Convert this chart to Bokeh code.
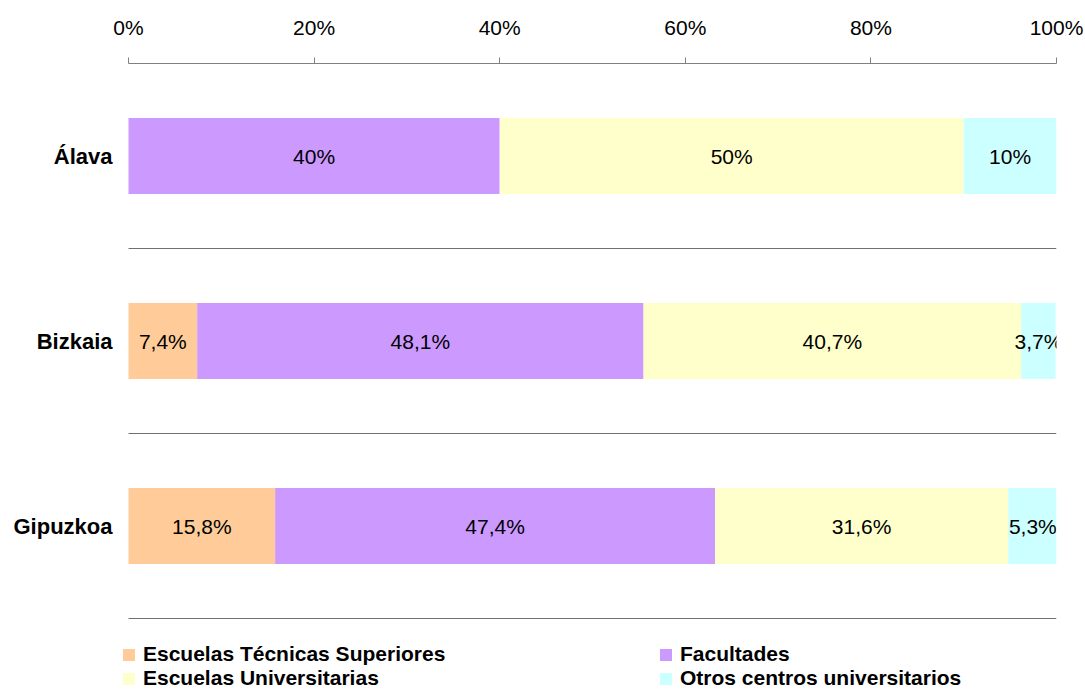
from bokeh.plotting import figure
from bokeh.models import Range1d, FixedTicker, Legend, LegendItem, ColumnDataSource
from bokeh.core.properties import value
from bokeh.embed import file_html
from bokeh.resources import INLINE

# ---- data ----
provinces = ["Álava", "Bizkaia", "Gipuzkoa"]
series_names = ["Escuelas Técnicas Superiores", "Facultades",
                "Escuelas Universitarias", "Otros centros universitarios"]
ets = [0.0, 7.4, 15.8]
fac = [40.0, 48.1, 47.4]
eu = [50.0, 40.7, 31.6]
otros = [10.0, 3.7, 5.3]
colors = ["#FFCC99", "#CC99FF", "#FFFFCC", "#CCFFFF"]
tick_values = [0, 20, 40, 60, 80, 100]
tick_labels = ["0%", "20%", "40%", "60%", "80%", "100%"]

FONT = "Liberation Sans"

# ---- layout constants (pixels) ----
W, H = 1085, 690
LEFT, RIGHT, TOP, BOTTOM = 121, 1056, 63, 690   # frame edges
X0_PX = 128           # where 0% sits
BAND_PX = 185         # height of one category band

n = len(provinces)
ypos = [n - i - 0.5 for i in range(n)]
series = [ets, fac, eu, otros]
keys = ["ets", "fac", "eu", "otros"]
data = dict(y=ypos)
for k, s in zip(keys, series):
    data[k] = s
src = ColumnDataSource(data)


def fmt(v):
    if float(v).is_integer():
        return f"{int(v)}%"
    return f"{v:.1f}".replace(".", ",") + "%"


px_per_pct = (RIGHT - X0_PX) / 100.0
x_start = -(X0_PX - LEFT) / px_per_pct
y_start = n - (BOTTOM - TOP) / BAND_PX

p = figure(width=W, height=H,
           x_range=Range1d(x_start, 100), y_range=Range1d(y_start, n),
           x_axis_location="above",
           output_backend="svg", toolbar_location=None,
           min_border_left=LEFT, min_border_right=W - RIGHT,
           min_border_top=TOP, min_border_bottom=H - BOTTOM)
p.outline_line_color = None
p.xgrid.visible = False
p.ygrid.visible = False

# separators between categories
bounds_y = list(range(n))
p.segment(x0=[0] * n, x1=[100] * n, y0=bounds_y, y1=bounds_y,
          line_color="#707070", line_width=1)

renderers = p.hbar_stack(keys, y="y", height=0.41, fill_color=colors,
                         line_color=None, source=src)

# segment labels
lx, ly, lt = [], [], []
for i in range(n):
    start = 0.0
    for s in series:
        v = s[i]
        if v > 0:
            lx.append(start + v / 2)
            ly.append(ypos[i])
            lt.append(fmt(v))
        start += v
p.text(x=lx, y=ly, text=lt, text_align="center", text_baseline="middle",
       text_font=value(FONT), text_font_size="21px", text_color="black")

# x axis (top)
xa = p.xaxis[0]
xa.ticker = FixedTicker(ticks=tick_values)
xa.bounds = (0, 100)
xa.major_label_overrides = dict(zip(tick_values, tick_labels))
xa.minor_tick_line_color = None
xa.major_tick_out = 6
xa.major_tick_in = 0
xa.axis_line_color = "#808080"
xa.major_tick_line_color = "#808080"
xa.major_label_text_font = FONT
xa.major_label_text_font_size = "21px"
xa.major_label_text_color = "black"
xa.major_label_standoff = 19

# y axis
ya = p.yaxis[0]
ya.ticker = FixedTicker(ticks=ypos)
ya.major_label_overrides = dict(zip(ypos, provinces))
ya.axis_line_color = None
ya.major_tick_line_color = None
ya.minor_tick_line_color = None
ya.major_tick_out = 0
ya.major_tick_in = 0
ya.major_label_standoff = 9
ya.major_label_text_font = FONT
ya.major_label_text_font_size = "22px"
ya.major_label_text_font_style = "bold"
ya.major_label_text_color = "black"


def make_legend(j, loc):
    lg = Legend(items=[LegendItem(label=series_names[j], renderers=[renderers[j]])],
                location=loc, orientation="vertical")
    lg.glyph_width = 15
    lg.glyph_height = 15
    lg.label_text_font = FONT
    lg.label_text_font_size = "21px"
    lg.label_text_font_style = "bold"
    lg.label_text_color = "black"
    lg.label_standoff = 7
    lg.label_height = 19
    lg.padding = 0
    lg.margin = 0
    lg.spacing = 0
    lg.border_line_color = None
    lg.background_fill_alpha = 0
    return lg


# legend grid: 2 columns x 2 rows, column-major order of the series
col_x = [0, 537]
row_y = [24, 0]
legend_slots = [(0, 0, 0), (1, 1, 0), (2, 0, 1), (3, 1, 1)]  # (series, col, row)
for j, c, r in legend_slots:
    p.add_layout(make_legend(j, (col_x[c], row_y[r])), "center")

open("out.html", "w").write(file_html(p, INLINE))
